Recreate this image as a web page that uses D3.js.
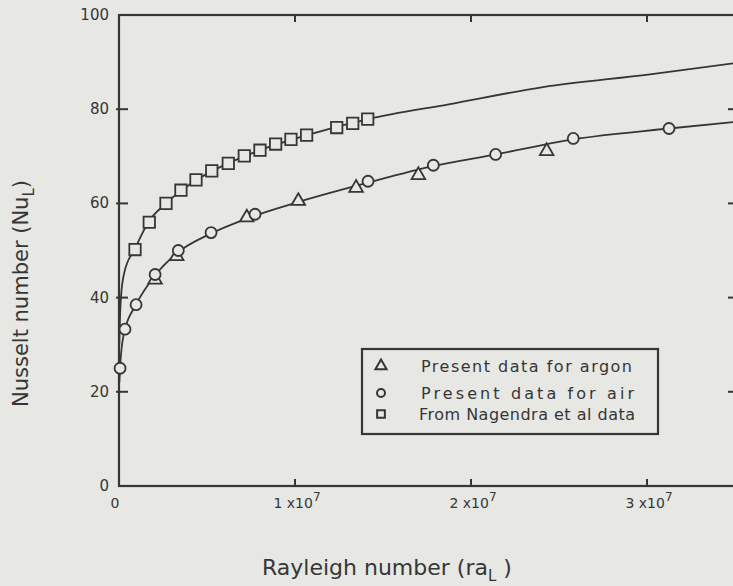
<!DOCTYPE html>
<html>
<head>
<meta charset="utf-8">
<script src="https://cdn.jsdelivr.net/npm/d3@7"></script>
<style>
  body { margin: 0; background: #e7e7e4; }
  svg { display: block; font-family: "DejaVu Sans", sans-serif; }
</style>
</head>
<body>
<div id="chart"></div>
<script>

// Rayleigh number in units of 10^7, Nusselt number
var argonPts = [[0.205, 43.8], [0.328, 48.8], [0.726, 57.0], [1.019, 60.5], [1.347, 63.3], [1.701, 66.0], [2.430, 71.1]];
var airPts = [[0.006, 25.0], [0.034, 33.3], [0.097, 38.5], [0.205, 44.9], [0.337, 50.0], [0.523, 53.8], [0.773, 57.7],
              [1.415, 64.7], [1.786, 68.1], [2.140, 70.4], [2.581, 73.8], [3.125, 75.9]];
var nagendraPts = [[0.091, 50.2], [0.172, 56.0], [0.267, 60.0], [0.352, 62.8], [0.4375, 65.0], [0.527, 66.9], [0.621, 68.5],
                   [0.712, 70.1], [0.801, 71.3], [0.890, 72.6], [0.977, 73.6], [1.066, 74.5], [1.237, 76.1], [1.328, 77.0], [1.413, 77.9]];

// fitted curves
var upperCurve = [[0.002, 30.0], [0.005, 35.0], [0.011, 40.0], [0.03, 45.3], [0.091, 50.4], [0.170, 56.2], [0.267, 60.0], [0.4375, 64.9],
                  [0.619, 68.5], [0.801, 71.3], [1.068, 74.5], [1.415, 77.9], [1.881, 81.1], [2.409, 84.7], [3.017, 87.4], [3.5, 89.8]];
var lowerCurve = [[0.002, 22.0], [0.006, 25.1], [0.028, 32.4], [0.097, 38.5], [0.205, 44.7], [0.335, 49.6], [0.523, 53.6], [0.773, 57.4],
                  [1.028, 60.4], [1.415, 64.4], [1.784, 67.9], [2.142, 70.4], [2.580, 73.6], [3.125, 75.9], [3.5, 77.3]];

var xTicks = [0, 1, 2, 3];
var yTicks = [0, 20, 40, 60, 80, 100];
var legendLabels = ["Present data for argon", "Present data for air", "From Nagendra et al data"];

var W = 733, H = 586;
var ink = "#363636";
var paper = "#e7e7e4";

var svg = d3.select("#chart").append("svg")
    .attr("width", W)
    .attr("height", H);

var x = d3.scaleLinear().domain([0, 3.5]).range([119, 735]);
var y = d3.scaleLinear().domain([0, 100]).range([486, 15]);

// frame
svg.append("rect")
    .attr("x", x(0)).attr("y", y(100))
    .attr("width", x(3.5) - x(0)).attr("height", y(0) - y(100))
    .attr("fill", "none").attr("stroke", ink).attr("stroke-width", 2.2);

// ticks, all pointing inward
var g = svg.append("g").attr("stroke", ink).attr("stroke-width", 2);
g.selectAll(".xb").data(xTicks.slice(1)).enter().append("line")
    .attr("x1", function(d){ return x(d) }).attr("x2", function(d){ return x(d) })
    .attr("y1", y(0)).attr("y2", y(0) - 7);
g.selectAll(".xt").data(xTicks.slice(1)).enter().append("line")
    .attr("x1", function(d){ return x(d) }).attr("x2", function(d){ return x(d) })
    .attr("y1", y(100)).attr("y2", y(100) + 7);
g.selectAll(".yl").data(yTicks.slice(1, -1)).enter().append("line")
    .attr("x1", x(0) - 3).attr("x2", x(0) + 9)
    .attr("y1", function(d){ return y(d) }).attr("y2", function(d){ return y(d) });
g.selectAll(".yr").data(yTicks.slice(1, -1)).enter().append("line")
    .attr("x1", x(3.5)).attr("x2", x(3.5) - 7)
    .attr("y1", function(d){ return y(d) }).attr("y2", function(d){ return y(d) });

// tick labels
svg.selectAll(".ylab").data(yTicks).enter().append("text")
    .attr("x", 109)
    .attr("y", function(d){ return y(d) + 5 })
    .attr("text-anchor", "end")
    .attr("font-size", 15)
    .attr("fill", ink)
    .text(function(d){ return d });

var xl = svg.selectAll(".xlab").data(xTicks).enter().append("text")
    .attr("x", function(d){ return d === 0 ? x(d) - 4 : x(d) + 2 })
    .attr("y", 508)
    .attr("text-anchor", "middle")
    .attr("font-size", 14)
    .attr("fill", ink);
xl.append("tspan").text(function(d){ return d === 0 ? "0" : d + " x10" });
xl.filter(function(d){ return d !== 0 }).append("tspan")
    .attr("dy", -7).attr("font-size", 12).text("7");

// curves
var line = d3.line()
    .x(function(d){ return x(d[0]) })
    .y(function(d){ return y(d[1]) })
    .curve(d3.curveMonotoneX);

svg.append("g").selectAll("path").data([upperCurve, lowerCurve]).enter().append("path")
    .attr("d", line)
    .attr("fill", "none")
    .attr("stroke", ink)
    .attr("stroke-width", 1.8);

// markers
var series = [
    { pts: argonPts, sym: d3.symbolTriangle, size: 80 },
    { pts: airPts, sym: d3.symbolCircle, size: 95 },
    { pts: nagendraPts, sym: d3.symbolSquare, size: 130 }
];

series.forEach(function(s){
    svg.append("g").selectAll("path").data(s.pts).enter().append("path")
        .attr("transform", function(d){ return "translate(" + x(d[0]) + "," + y(d[1]) + ")" })
        .attr("d", d3.symbol().type(s.sym).size(s.size))
        .attr("fill", paper)
        .attr("stroke", ink)
        .attr("stroke-width", 1.8);
});

// legend
var leg = svg.append("g");
leg.append("rect")
    .attr("x", 362).attr("y", 349)
    .attr("width", 296).attr("height", 85)
    .attr("fill", paper).attr("stroke", ink).attr("stroke-width", 2.2);

var legY = [366, 393, 414];
var legSize = [55, 50, 60];
var legWidth = [211, 213, 216];
legendLabels.forEach(function(lbl, i){
    leg.append("path")
        .attr("transform", "translate(381," + legY[i] + ")")
        .attr("d", d3.symbol().type(series[i].sym).size(legSize[i]))
        .attr("fill", paper)
        .attr("stroke", ink)
        .attr("stroke-width", 2);
    leg.append("text")
        .attr("x", i === 2 ? 419 : 421)
        .attr("y", legY[i] + 6)
        .attr("font-size", 16)
        .attr("textLength", legWidth[i])
        .attr("lengthAdjust", "spacing")
        .attr("fill", ink)
        .text(lbl);
});

// axis titles
var xt = svg.append("text")
    .attr("x", 262).attr("y", 575)
    .attr("font-size", 22)
    .attr("fill", ink);
xt.append("tspan").text("Rayleigh number (ra");
xt.append("tspan").attr("dy", 6).attr("font-size", 15).text("L");
xt.append("tspan").attr("dy", -6).text(" )");

var yt = svg.append("text")
    .attr("transform", "translate(28,407) rotate(-90)")
    .attr("font-size", 21)
    .attr("fill", ink);
yt.append("tspan").text("Nusselt number (Nu");
yt.append("tspan").attr("dy", 6).attr("font-size", 15).text("L");
yt.append("tspan").attr("dy", -6).text(")");

</script>
</body>
</html>
